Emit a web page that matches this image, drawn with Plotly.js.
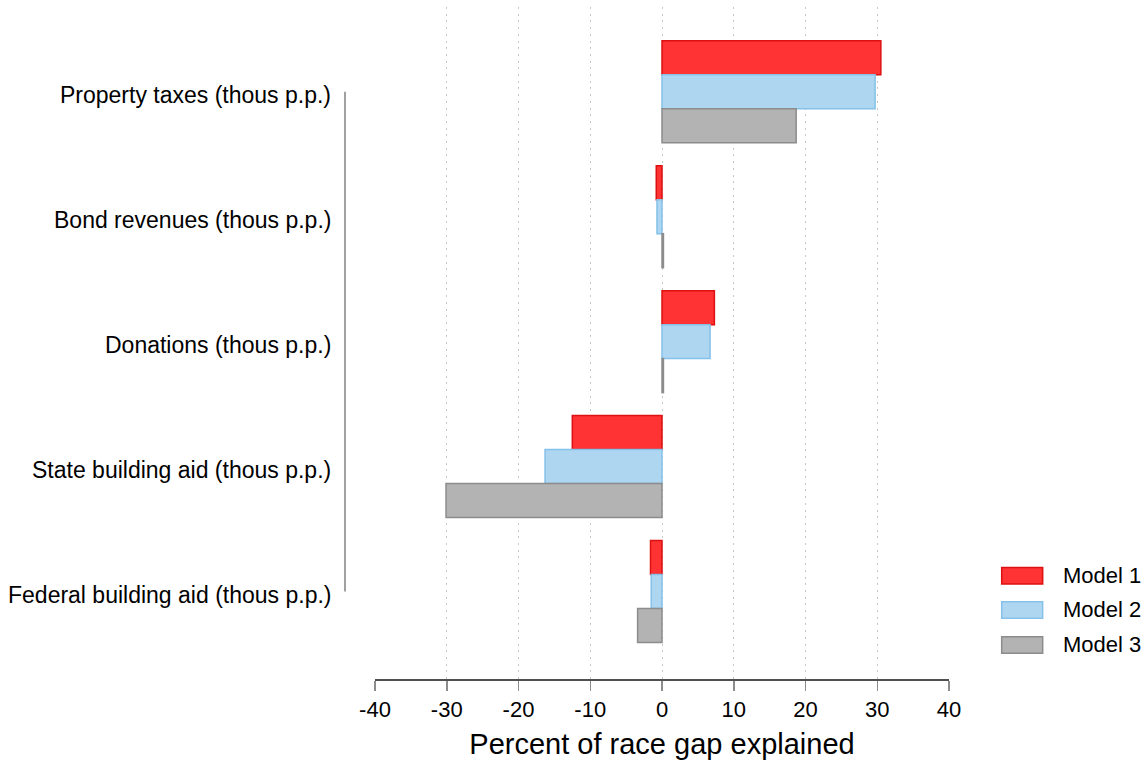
<!DOCTYPE html>
<html>
<head>
<meta charset="utf-8">
<script src="https://cdn.plot.ly/plotly-3.0.1.min.js"></script>
<style>html,body{margin:0;padding:0;background:#fff;}#chart{width:1146px;height:761px;}</style>
</head>
<body>
<div id="chart"></div>
<script>
const categories = [
  "Property taxes (thous p.p.)",
  "Bond revenues (thous p.p.)",
  "Donations (thous p.p.)",
  "State building aid (thous p.p.)",
  "Federal building aid (thous p.p.)"
];
const seriesNames = ["Model 1", "Model 2", "Model 3"];
const model1 = [30.5, -0.8, 7.3, -12.5, -1.6];
const model2 = [29.7, -0.7, 6.7, -16.3, -1.5];
const model3 = [18.7, 0.2, 0.2, -30.1, -3.4];
const xTicks = [-40, -30, -20, -10, 0, 10, 20, 30, 40];

const FONT = "Liberation Sans, Arial, Helvetica, sans-serif";
const fills = ["rgb(255,51,51)", "rgb(174,214,241)", "rgb(179,179,179)"];
const lines = ["rgb(221,17,17)", "rgb(133,193,233)", "rgb(140,140,140)"];
const values = [model1, model2, model3];

const traces = values.map((v, i) => ({
  type: "bar",
  orientation: "h",
  name: seriesNames[i],
  x: v,
  y: categories,
  marker: {color: fills[i], line: {color: lines[i], width: 1.5}},
  showlegend: false,
  hoverinfo: "x+name"
}));

const shapes = [];
const annotations = [];

// y-axis line spanning first to last category
shapes.push({
  type: "line", xref: "paper", yref: "y",
  x0: -0.0523, x1: -0.0523, y0: categories[0], y1: categories[categories.length - 1],
  line: {color: "rgb(160,160,160)", width: 2}
});

// category labels
categories.forEach(c => {
  annotations.push({
    xref: "paper", yref: "y", x: -0.0732, y: c, xanchor: "right", yanchor: "middle",
    text: c, showarrow: false, yshift: -3,
    font: {family: FONT, size: 23, color: "#000"}
  });
});

// custom legend
const legY = [0.1537, 0.1027, 0.0506];
seriesNames.forEach((n, i) => {
  shapes.push({
    type: "rect", xref: "paper", yref: "paper",
    x0: 1.0918, x1: 1.1632, y0: legY[i] - 0.0124, y1: legY[i] + 0.0124,
    fillcolor: fills[i], line: {color: lines[i], width: 1.5}
  });
  annotations.push({
    xref: "paper", yref: "paper", x: 1.1946, y: legY[i], xanchor: "left", yanchor: "middle",
    text: n, showarrow: false,
    font: {family: FONT, size: 22, color: "#000"}
  });
});

const layout = {
  width: 1146, height: 761,
  margin: {l: 375, r: 197, t: 7, b: 82, pad: 0},
  paper_bgcolor: "#fff", plot_bgcolor: "#fff",
  barmode: "group", bargap: 0.184, bargroupgap: 0,
  font: {family: FONT, size: 22, color: "#000"},
  xaxis: {
    range: [-40, 40], tickvals: xTicks, ticktext: xTicks.map(String),
    showgrid: true, gridcolor: "rgb(200,200,200)", griddash: "2px,4.7px", gridwidth: 1,
    zeroline: false,
    showline: true, linecolor: "rgb(80,80,80)", linewidth: 1.5,
    ticks: "outside", ticklen: 10, tickcolor: "rgb(140,140,140)", tickwidth: 1.5,
    tickfont: {family: FONT, size: 22, color: "#000"},
    title: {text: "Percent of race gap explained", font: {family: FONT, size: 29, color: "#000"}, standoff: 13}
  },
  yaxis: {
    type: "category", categoryorder: "array", categoryarray: categories,
    range: [4.70, -0.678],
    showticklabels: false, showgrid: false, zeroline: false, showline: false, ticks: ""
  },
  shapes: shapes,
  annotations: annotations,
  showlegend: false
};

Plotly.newPlot("chart", traces, layout, {displayModeBar: false, staticPlot: true});
</script>
</body>
</html>
